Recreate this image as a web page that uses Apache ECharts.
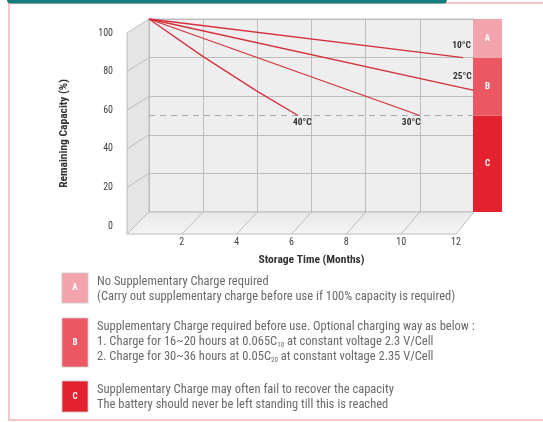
<!DOCTYPE html>
<html><head><meta charset="utf-8">
<script src="https://cdn.jsdelivr.net/npm/echarts@6/dist/echarts.min.js"></script>
<style>html,body{margin:0;padding:0;background:#fff}#c{width:543px;height:422px}</style>
</head><body><div id="c"></div>
<script>
// ---- data ----
const monthTicks = [0, 2, 4, 6, 8, 10, 12];
const capTicks = [0, 20, 40, 60, 80, 100];
const tempNames = ['10°C', '25°C', '30°C', '40°C'];
const curve10 = [[0, 100], [11.6, 80]];
const curve25 = [[0, 100], [12, 63]];
const curve30 = [[0, 100], [10, 50]];
const curve40 = [[0, 100], [2, 80.5], [4, 62.5], [5.5, 50]];
const limitLine = 50;
const zoneNames = ['C', 'B', 'A'];
const zoneSizes = [50, 30, 20];
const xAxisTitle = 'Storage Time (Months)';
const yAxisTitle = 'Remaining Capacity (%)';
const legendLines = [
  ['No Supplementary Charge required', '(Carry out supplementary charge before use if 100% capacity is required)'],
  ['Supplementary Charge required before use. Optional charging way as below :',
   '1. Charge for 16~20 hours at 0.065C}{s|10}{n| at constant voltage 2.3 V/Cell',
   '2. Charge for 30~36 hours at 0.05C}{s|20}{n| at constant voltage 2.35 V/Cell'],
  ['Supplementary Charge may often fail to recover the capacity', 'The battery should never be left standing till this is reached']
];

// ---- style ----
const FONT = "'Roboto Condensed','Liberation Sans Narrow','DejaVu Sans Condensed',sans-serif";
const zoneColors = { A: '#f3a3ab', B: '#ec5764', C: '#e4212e' };
const lineRed = '#d5303c';
const gridGray = '#bcbcbc';
const curves = [curve10, curve25, curve30, curve40];
const endOffsets = [[-19, -12], [-29, -14], [-26, 7], [-13, 7]];

const chart = echarts.init(document.getElementById('c'));

const series = curves.map((c, i) => ({
  type: 'line', xAxisIndex: 0, yAxisIndex: 0, data: c, symbol: 'none',
  lineStyle: { color: lineRed, width: 1.3 }, z: 5,
  endLabel: { show: true, formatter: tempNames[i], offset: endOffsets[i], color: '#333',
    fontFamily: FONT, fontSize: 9.5, fontWeight: 'bold' },
  markLine: i === 0 ? { silent: true, symbol: 'none', label: { show: false },
    lineStyle: { color: '#a9a9a9', type: [6, 5], width: 1.2 }, data: [{ yAxis: limitLine }] } : undefined
}));

zoneNames.forEach((z, i) => {
  series.push({
    type: 'bar', xAxisIndex: 2, yAxisIndex: 2, stack: 'zones', barWidth: '100%',
    data: [zoneSizes[i]], itemStyle: { color: zoneColors[z] },
    label: { show: true, position: 'inside', formatter: z, color: '#fff', fontWeight: 'bold', fontSize: 9, fontFamily: FONT }
  });
});

chart.setOption({
  animation: false,
  grid: [
    { left: 149, top: 19, width: 325, height: 193, show: true, backgroundColor: '#eeeeee', borderColor: gridGray, borderWidth: 1 },
    { left: 127, top: 33, width: 329, height: 201 },
    { left: 473, top: 19, width: 29, height: 193 }
  ],
  xAxis: [
    { gridIndex: 0, type: 'value', min: 0, max: 12, interval: 2, axisLabel: { show: false }, axisTick: { show: false },
      axisLine: { show: false }, splitLine: { lineStyle: { color: gridGray } } },
    { gridIndex: 1, type: 'value', min: 0, max: 12, interval: 2, axisLine: { show: false, onZero: false }, axisTick: { show: false },
      splitLine: { show: false },
      axisLabel: { margin: 3, color: '#444', fontSize: 10, fontFamily: FONT, formatter: v => v === 0 ? '' : String(v) },
      name: xAxisTitle, nameLocation: 'middle', nameGap: 20,
      nameTextStyle: { fontFamily: FONT, fontWeight: 'bold', fontSize: 11.5, color: '#333', padding: [0, 0, 0, 40] } },
    { gridIndex: 2, type: 'category', data: ['z'], show: false }
  ],
  yAxis: [
    { gridIndex: 0, type: 'value', min: 0, max: 100, interval: 20, axisLabel: { show: false }, axisTick: { show: false },
      axisLine: { show: false }, splitLine: { lineStyle: { color: gridGray } } },
    { gridIndex: 1, type: 'value', min: -4, max: 100, axisLine: { show: false }, axisTick: { show: false }, splitLine: { show: false },
      axisLabel: { customValues: capTicks, margin: 14, color: '#444', fontSize: 10, fontFamily: FONT },
      name: yAxisTitle, nameLocation: 'middle', nameGap: 57, nameRotate: 90,
      nameTextStyle: { fontFamily: FONT, fontWeight: 'bold', fontSize: 11.5, color: '#333' } },
    { gridIndex: 2, type: 'value', min: 0, max: 100, show: false }
  ],
  series: series
});

// ---- 3D box decoration computed from the axes ----
const P = (g, x, y) => chart.convertToPixel({ gridIndex: g }, [x, y]);
const frontFloor = -4;
const gfx = [];
gfx.push({ type: 'rect', shape: { x: 9, y: 3, width: 560, height: 417 }, style: { fill: 'none', stroke: '#f2b3b8', lineWidth: 1.5 }, z: 1 });
gfx.push({ type: 'rect', shape: { x: 7, y: -4, width: 440, height: 7.5, r: 4 }, style: { fill: '#147d80' }, z: 2 });
const lw = [P(1, 0, 100), P(0, 0, 100), P(0, 0, 0), P(1, 0, frontFloor)];
gfx.push({ type: 'polygon', shape: { points: lw }, style: { fill: '#e5e5e5', stroke: gridGray, lineWidth: 1 }, z: 1 });
capTicks.forEach(v => { if (v > 0 && v < 100) { const a = P(1, 0, v), b = P(0, 0, v);
  gfx.push({ type: 'line', shape: { x1: a[0], y1: a[1], x2: b[0], y2: b[1] }, style: { stroke: gridGray, lineWidth: 1 }, z: 2 }); } });
const fl = [P(0, 0, 0), P(0, 12, 0), P(1, 12, frontFloor), P(1, 0, frontFloor)];
gfx.push({ type: 'polygon', shape: { points: fl }, style: {
  fill: new echarts.graphic.LinearGradient(0, 0, 0, 1, [{ offset: 0, color: '#e8e8e8' }, { offset: 1, color: '#f5f5f5' }]),
  stroke: gridGray, lineWidth: 1 }, z: 1 });
monthTicks.forEach(m => { if (m > 0 && m < 12) { const a = P(0, m, 0), b = P(1, m, frontFloor);
  gfx.push({ type: 'line', shape: { x1: a[0], y1: a[1], x2: b[0], y2: b[1] }, style: { stroke: gridGray, lineWidth: 1 }, z: 2 }); } });
const boxes = [{ k: 'A', y: 273, h: 30, ty: 282 }, { k: 'B', y: 318, h: 49, ty: 327 }, { k: 'C', y: 381, h: 31, ty: 390 }];
boxes.forEach((b, i) => {
  gfx.push({ type: 'rect', shape: { x: 62, y: b.y, width: 26, height: b.h }, style: { fill: zoneColors[b.k], stroke: '#c9c9c9', lineWidth: 0.8 }, z: 3 });
  gfx.push({ type: 'text', x: 75, y: b.y + b.h / 2, style: { text: b.k, fill: '#fff', font: 'bold 9px ' + FONT, align: 'center', verticalAlign: 'middle' }, z: 4 });
  legendLines[i].forEach((t, j) => {
    gfx.push({ type: 'text', x: 97, y: b.ty + j * 15, z: 4, style: {
      text: '{n|' + t + '}', verticalAlign: 'middle', align: 'left',
      rich: { n: { fontFamily: FONT, fontSize: 12.5, fill: '#6a6a6a' }, s: { fontFamily: FONT, fontSize: 7, fill: '#6a6a6a', padding: [7, 0, 0, 0] } } } });
  });
});
chart.setOption({ graphic: { elements: gfx } });
</script></body></html>
